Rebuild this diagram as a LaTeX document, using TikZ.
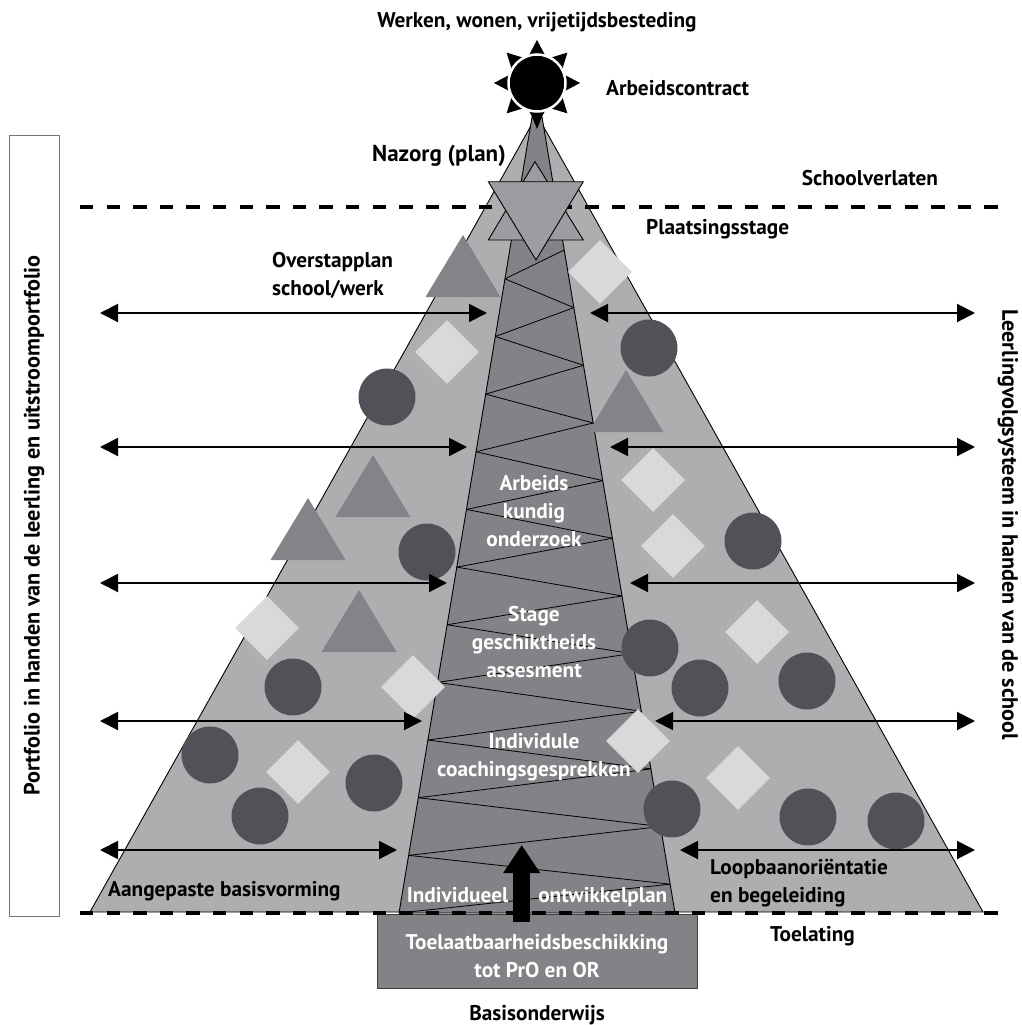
\documentclass[tikz,border=0pt]{standalone}
\usepackage{fontspec}
\setmainfont{PT Sans}
\usetikzlibrary{arrows.meta,shapes.geometric}
\definecolor{cOuter}{HTML}{AEAEB1}
\definecolor{cTower}{HTML}{838287}
\definecolor{cStar}{HTML}{9D9CA0}
\definecolor{cTri}{HTML}{848388}
\definecolor{cCirc}{HTML}{525157}
\definecolor{cDiam}{HTML}{D9D9DB}
\newcommand\dfont{\fontsize{21.3}{28}\selectfont\bfseries}
\newcommand\rfont{\fontsize{22.2}{28}\selectfont\bfseries}
\tikzset{
  outerstyle/.style={fill=cOuter,draw=black,line width=0.9pt},
  towerstyle/.style={fill=cTower,draw=black,line width=0.9pt},
  zig/.style={draw=black,line width=0.8pt},
  starstyle/.style={fill=cStar,draw=black,line width=0.9pt},
  circ/.style={circle,fill=cCirc,minimum size=57pt,inner sep=0pt},
  diam/.style={diamond,fill=cDiam,minimum size=64pt,inner sep=0pt},
  tripic/.pic={\fill[cTri] (-37.5,62) -- (0,0) -- (37.5,62) -- cycle;},
  dblarrow/.style={draw=black,line width=2pt,{Triangle[length=18pt,width=18pt]}-{Triangle[length=18pt,width=18pt]}},
  dashline/.style={draw=black,line width=4pt,dash pattern=on 13.3pt off 13.3pt},
  lbl/.style={inner sep=0pt,text=black,font=\dfont},
  wlbl/.style={inner sep=0pt,text=white,font=\dfont,align=center},
}
\begin{document}
\begin{tikzpicture}[x=1pt,y=-1pt]
\useasboundingbox (0,0) rectangle (1021,1025);
% outer triangle
\coordinate (apex) at (537,115);
\coordinate (bl) at (90,912);
\coordinate (br) at (983,912);
\filldraw[outerstyle] (bl) -- (apex) -- (br) -- cycle;
% tower
\coordinate (tl) at (532,117);
\coordinate (tr) at (542,117);
\coordinate (tbl) at (399,913);
\coordinate (tbr) at (675,913);
\filldraw[towerstyle] (tbl) -- (tl) -- (tr) -- (tbr) -- cycle;
% zigzag
\foreach \k in {0,...,22}{
  \pgfmathsetmacro{\sa}{ifthenelse(mod(\k,2)==0,1,-1)}
  \pgfmathsetmacro{\ya}{250+28.826*\k}
  \pgfmathsetmacro{\yb}{250+28.826*(\k+1)}
  \pgfmathsetmacro{\xa}{537+\sa*(5+0.16709*(\ya-117))}
  \pgfmathsetmacro{\xb}{537-\sa*(5+0.16709*(\yb-117))}
  \draw[zig] (\xa,\ya) -- (\xb,\yb);
}
% dashed lines
\coordinate (d1a) at (80,207);
\coordinate (d1b) at (1002,207);
\draw[dashline] (d1a) -- (d1b);
% star
\filldraw[starstyle] (488.3,240) -- (535,161.7) -- (583.3,240) -- cycle;
\filldraw[starstyle] (488.3,181.7) -- (583.3,181.7) -- (536,260) -- cycle;
% triangles
\pic at (463,235) {tripic};
\pic at (626,370) {tripic};
\pic at (373,455) {tripic};
\pic at (308,498) {tripic};
\pic at (359,590) {tripic};
% diamonds
\node[diam] (d1) at (600,272) {};
\node[diam] (d2) at (447,352) {};
\node[diam] (d3) at (653,480) {};
\node[diam] (d4) at (673,546) {};
\node[diam] (d5) at (757,632) {};
\node[diam] (d6) at (267,628) {};
\node[diam] (d7) at (413,687) {};
\node[diam] (d8) at (638,741) {};
\node[diam] (d9) at (298,772) {};
\node[diam] (d10) at (738,778) {};
% circles
\node[circ] (c1) at (649,348) {};
\node[circ] (c2) at (387,397) {};
\node[circ] (c3) at (427,552) {};
\node[circ] (c4) at (753,541) {};
\node[circ] (c5) at (650,648) {};
\node[circ] (c6) at (700,688) {};
\node[circ] (c7) at (807,681) {};
\node[circ] (c8) at (293,687) {};
\node[circ] (c9) at (210,755) {};
\node[circ] (c10) at (374,783) {};
\node[circ] (c11) at (260,816) {};
\node[circ] (c12) at (672,809) {};
\node[circ] (c13) at (808,817) {};
\node[circ] (c14) at (896,821) {};
% arrows
\foreach \n/\y/\lt/\rt in {1/313/487/590, 2/447/467/610, 3/583/447/630, 4/721/422/655, 5/850/397/680}{
  \coordinate (la\n) at (100,\y);
  \coordinate (lb\n) at (\lt,\y);
  \coordinate (ra\n) at (\rt,\y);
  \coordinate (rb\n) at (975,\y);
  \draw[dblarrow] (la\n) -- (lb\n);
  \draw[dblarrow] (ra\n) -- (rb\n);
}
% tower texts
\node[wlbl] (tx1) at (534,511) {Arbeids\\kundig\\onderzoek};
\node[wlbl] (tx2) at (534,642) {Stage\\geschiktheids\\assesment};
\node[wlbl] (tx3) at (534,757) {Individule\\coachingsgesprekken};
\node[wlbl] (tx4) at (537,897) {Individueel\hspace{30pt}ontwikkelplan};
% bottom box
\node[draw=black!75,line width=0.9pt,fill=cTower,minimum width=320pt,minimum height=74pt,anchor=north,inner sep=0pt] (box) at (537,914) {};
\node[wlbl] (boxtxt) at (537,956) {Toelaatbaarheidsbeschikking\\tot PrO en OR};
\coordinate (d2a) at (80,913);
\coordinate (d2b) at (1002,913);
\draw[dashline] (d2a) -- (d2b);
% big arrow
\coordinate (ba) at (521.7,922);
\coordinate (bb) at (521.7,845);
\draw[line width=17pt,-{Triangle[length=28pt,width=35pt]}] (ba) -- (bb);
% sun
\begin{scope}[shift={(537,83)}]
\foreach \a in {0,45,...,315}{
  \fill[black,rotate=\a] (26,-9) -- (43,0) -- (26,9) -- cycle;
}
\end{scope}
\node[circle,fill=black,draw=white,line width=2.5pt,minimum size=57pt,inner sep=0pt] (sun) at (537,83) {};
\coordinate (sa) at (537,129);
\draw[black,line width=1pt,-{Triangle[length=13pt,width=10pt]}] (sun.south) -- (sa);
% labels
\node[lbl] (werk) at (537,22) {Werken, wonen, vrijetijdsbesteding};
\node[lbl,anchor=west] (arb) at (606,88) {Arbeidscontract};
\node[lbl,anchor=east,font=\fontsize{23}{28}\selectfont\bfseries] (naz) at (506,156) {Nazorg (plan)};
\node[lbl] (sv) at (870,178) {Schoolverlaten};
\node[lbl,anchor=west] (ps) at (646,229) {Plaatsingsstage};
\node[lbl,anchor=west,align=left] (ov) at (272,275) {Overstapplan\\school/werk};
\node[lbl,anchor=west] (ab) at (108,891) {Aangepaste basisvorming};
\node[lbl,anchor=west,align=left] (lb) at (710,883) {Loopbaanoriëntatie\\en begeleiding};
\node[lbl,anchor=west] (toel) at (770,936) {Toelating};
\node[lbl] (basis) at (537,1015) {Basisonderwijs};
% side boxes
\node[draw=black!55,line width=1pt,minimum width=50pt,minimum height=781pt,inner sep=0pt] (lbox) at (34,525.5) {};
\node[lbl,rotate=90,font=\rfont] (ltxt) at (lbox.center) {Portfolio in handen van de leerling en uitstroomportfolio};
\node[lbl,rotate=-90,font=\rfont] (rtxt) at (1008,525) {Leerlingvolgsysteem in handen van de school};
\end{tikzpicture}
\end{document}
